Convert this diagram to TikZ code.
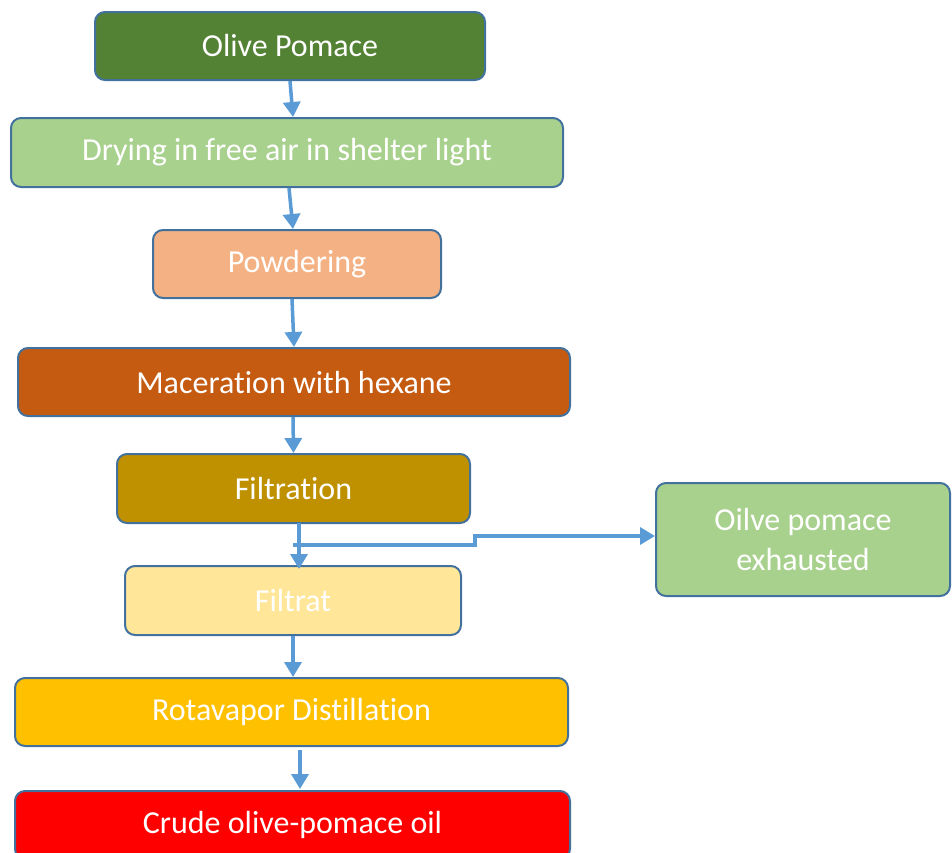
\documentclass[tikz,border=0pt]{standalone}
\usepackage{fontspec}
\setmainfont[Ligatures={NoCommon}]{Carlito}
\usetikzlibrary{arrows.meta}
\definecolor{bordc}{HTML}{41719C}
\definecolor{arrc}{HTML}{5B9BD5}
\definecolor{cOlive}{HTML}{548235}
\definecolor{cDry}{HTML}{A9D18E}
\definecolor{cPow}{HTML}{F4B183}
\definecolor{cMac}{HTML}{C55A11}
\definecolor{cFil}{HTML}{BF9000}
\definecolor{cFiltrat}{HTML}{FFE699}
\definecolor{cRot}{HTML}{FFC000}
\definecolor{cCrude}{HTML}{FF0000}
\tikzset{
  stepbox/.style={draw=bordc, line width=2pt, rounded corners=10pt, text=white,
    font=\fontsize{32}{38}\selectfont, inner sep=0pt, align=center},
  flow/.style={draw=arrc, line width=3.5pt, -{Triangle[length=15pt,width=17pt]}},
}
\begin{document}
\begin{tikzpicture}[x=1pt,y=-1pt]
\useasboundingbox (0,0) rectangle (952,852);
\clip (0,0) rectangle (952,852);
\node[stepbox, fill=cOlive, minimum width=390pt, minimum height=68pt] (olive) at (290,46) {Olive Pomace};
\node[stepbox, fill=cDry, minimum width=552pt, minimum height=69pt] (dry) at (287,152.5) {Drying in free air in shelter light};
\node[stepbox, fill=cPow, minimum width=288pt, minimum height=68pt] (pow) at (297,264) {Powdering};
\node[stepbox, fill=cMac, minimum width=552pt, minimum height=68pt] (mac) at (294,382) {Maceration with hexane};
\node[stepbox, fill=cFil, minimum width=353pt, minimum height=69pt] (fil) at (293.5,488.5) {Filtration};
\node[stepbox, fill=cFiltrat, minimum width=336pt, minimum height=69pt] (filtrat) at (293,600.5) {Filtrat};
\node[stepbox, fill=cRot, minimum width=553pt, minimum height=68pt] (rot) at (291.5,712) {Rotavapor Distillation};
\node[stepbox, fill=cCrude, minimum width=555pt, minimum height=68pt] (crude) at (292.5,825) {Crude olive-pomace oil};
\node[stepbox, fill=cDry, minimum width=294pt, minimum height=113pt, font=\fontsize{32}{40}\selectfont] (exh) at (803,539.5) {Oilve pomace\\exhausted};

\draw[flow] (olive.south) -- ([xshift=6pt]dry.north);
\draw[flow] ([xshift=2pt]dry.south) -- ([xshift=-4pt]pow.north);
\draw[flow] ([xshift=-5pt]pow.south) -- (mac.north);
\draw[flow] ([xshift=-1pt]mac.south) -- (fil.north);
\draw[flow] ([xshift=5.5pt,yshift=1pt]fil.south) -- ([xshift=6pt,yshift=-4pt]filtrat.north);
\coordinate (b0) at (293,545);
\coordinate (b1) at (475,545);
\coordinate (b2) at (475,536);
\draw[flow] (b0) -- (b1) -- (b2) -- (exh.west |- b2);
\draw[flow] (filtrat.south) -- ([xshift=1.5pt]rot.north);
\draw[flow] ([xshift=8.5pt,yshift=-3pt]rot.south) -- ([xshift=7.5pt,yshift=1pt]crude.north);
\end{tikzpicture}
\end{document}
